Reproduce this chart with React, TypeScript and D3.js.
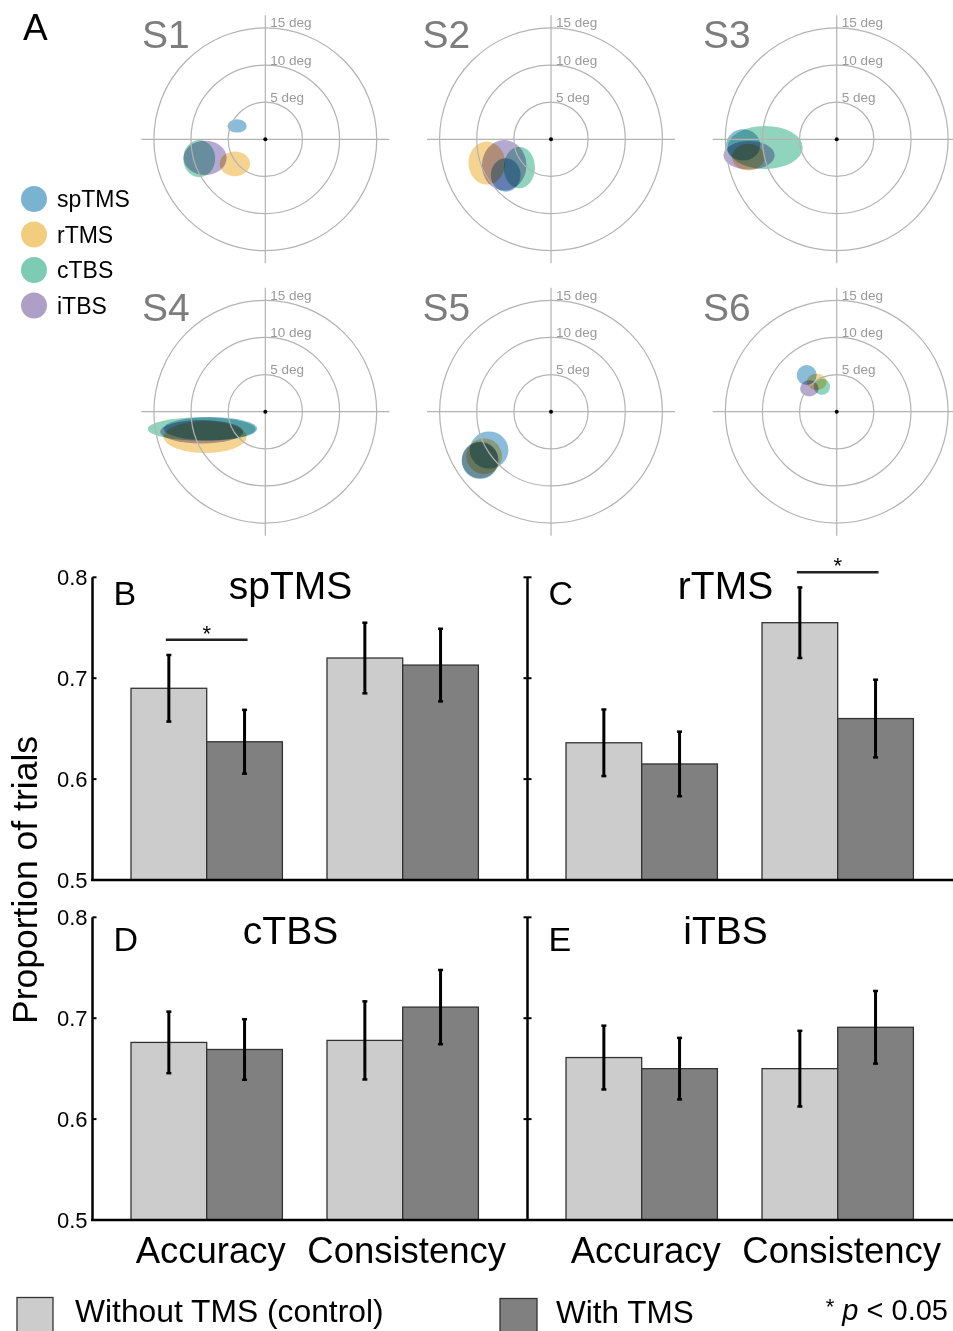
import React, { useEffect } from "react";
import * as d3 from "d3";

// ---------- Data ----------
const conditions = ["spTMS", "rTMS", "cTBS", "iTBS"];
const condColors = ["#6eabd0", "#f2c977", "#76c9ac", "#a493c6"];
const legendColors = ["#7ab3d0", "#f2cd7d", "#7ecbb3", "#ad9fc6"];
const subjects = ["S1", "S2", "S3", "S4", "S5", "S6"];
const ringDegs = [5, 10, 15];

// ellipse per subject: [conditionIndex, x (deg), y (deg), rx (deg), ry (deg)]
const s1Ellipses = [[2, -8.9, -2.6, 2.15, 2.5], [3, -8.1, -2.5, 2.9, 2.3], [1, -4.1, -3.3, 2.06, 1.66], [0, -3.8, 1.8, 1.3, 0.9]];
const s2Ellipses = [[1, -8.65, -3.2, 2.47, 2.9], [3, -6.3, -3.5, 3.0, 3.4], [0, -6.1, -4.8, 2.0, 2.25], [2, -4.26, -3.8, 2.1, 2.8]];
const s3Ellipses = [[2, -9.64, -1.1, 5.07, 2.9], [0, -12.6, -0.76, 2.3, 2.1], [1, -11.9, -2.4, 2.2, 1.8], [3, -11.8, -2.15, 3.45, 1.93]];
const s4Ellipses = [[2, -8.57, -2.33, 7.26, 1.57], [0, -7.4, -2.3, 6.3, 1.57], [1, -8.1, -3.4, 5.6, 2.15], [3, -8.57, -2.7, 5.6, 1.57]];
const s5Ellipses = [[0, -8.34, -5.16, 2.6, 2.5], [1, -9.0, -6.0, 2.4, 2.4], [2, -9.55, -6.6, 2.47, 2.47], [3, -9.55, -6.5, 2.47, 2.47]];
const s6Ellipses = [[0, -4.04, 4.93, 1.35, 1.35], [1, -2.7, 4.0, 1.35, 1.1], [2, -2.0, 3.36, 1.1, 1.1], [3, -3.68, 3.14, 1.25, 1.08]];
const subjectEllipses = [s1Ellipses, s2Ellipses, s3Ellipses, s4Ellipses, s5Ellipses, s6Ellipses];

const measures = ["Accuracy", "Consistency"];
const groups = ["control", "tms"];
// per condition: [Accuracy, Consistency]
const controlMeans = [[0.690, 0.720], [0.636, 0.755], [0.676, 0.678], [0.661, 0.650]];
const tmsMeans = [[0.637, 0.713], [0.615, 0.660], [0.669, 0.711], [0.650, 0.691]];
const controlErr = [[0.033, 0.035], [0.033, 0.035], [0.0305, 0.0387], [0.0316, 0.0375]];
const tmsErr = [[0.0316, 0.036], [0.032, 0.0385], [0.030, 0.0368], [0.0305, 0.036]];
const yTicks = [0.5, 0.6, 0.7, 0.8];
// significant comparisons: [conditionIndex, measureIndex, line level]
const sigPairs = [[0, 0, 0.738], [1, 1, 0.805]];
const panelLetters = ["B", "C", "D", "E"];

const FONT = "'Liberation Sans', Arial, Helvetica, sans-serif";

// ---------- Layout ----------
const W = 953, H = 1331;
const polarCX = [265.3, 551, 836.7];
const polarCY = [139.3, 411.7];
const rScale = d3.scaleLinear().domain([0, 15]).range([0, 111.4]);
const axisHalf = 124;

function PolarPlot({ idx }: { idx: number }) {
  const col = idx % 3;
  const cx = polarCX[col];
  const cy = polarCY[Math.floor(idx / 3)];
  const ell = subjectEllipses[idx];
  return (
    <g>
      <g style={{ isolation: "isolate" }}>
        {ell.map((e, i) => (
          <ellipse
            key={i}
            cx={cx + rScale(e[1])}
            cy={cy - rScale(e[2])}
            rx={rScale(e[3])}
            ry={rScale(e[4])}
            fill={condColors[e[0]]}
            fillOpacity={0.8}
            style={{ mixBlendMode: "multiply" }}
          />
        ))}
      </g>
      {ringDegs.map((d) => (
        <circle key={d} cx={cx} cy={cy} r={rScale(d)} fill="none" stroke="#b3b3b3" strokeWidth={1.2} />
      ))}
      <line x1={cx - axisHalf} x2={cx + axisHalf} y1={cy} y2={cy} stroke="#b3b3b3" strokeWidth={1.2} />
      <line x1={cx} x2={cx} y1={cy - axisHalf} y2={cy + axisHalf} stroke="#b3b3b3" strokeWidth={1.2} />
      <circle cx={cx} cy={cy} r={2} fill="#000" />
      {ringDegs.map((d) => (
        <text key={"t" + d} x={cx + 5} y={cy - rScale(d) - 0.5} fontSize={13.5} fill="#9a9a9a" fontFamily={FONT}>
          {d} deg
        </text>
      ))}
      <text x={142 + col * 280.5} y={cy - 91} fontSize={39} fill="#7d7d7d" fontFamily={FONT}>
        {subjects[idx]}
      </text>
    </g>
  );
}

function BarPanel({ ci }: { ci: number }) {
  const col = ci % 2, row = Math.floor(ci / 2);
  const axisX = 92.5 + col * 435;
  const y08 = 577.3 + row * 340;
  const y05 = 880 + row * 340;
  const y = d3.scaleLinear().domain([0.5, 0.8]).range([y05, y08]);
  const xG = d3.scaleBand().domain(measures).range([axisX + 16.2, axisX + 408.2]).paddingInner(0.2276).paddingOuter(0.1138);
  const xS = d3.scaleBand().domain(groups).range([0, xG.bandwidth()]);
  const means = [controlMeans[ci], tmsMeans[ci]];
  const errs = [controlErr[ci], tmsErr[ci]];
  const fills = ["#cccccc", "#808080"];
  const letterDY = row === 0 ? 28 : 34;
  return (
    <g>
      {measures.map((m, mi) =>
        groups.map((g, gi) => {
          const x0 = (xG(m) as number) + (xS(g) as number);
          const v = means[gi][mi];
          const e = errs[gi][mi];
          const xc = x0 + xS.bandwidth() / 2;
          return (
            <g key={m + g}>
              <rect x={x0} y={y(v)} width={xS.bandwidth()} height={y05 - y(v)} fill={fills[gi]} stroke="#333" strokeWidth={1.3} />
              <line x1={xc} x2={xc} y1={y(v + e)} y2={y(v - e)} stroke="#000" strokeWidth={3} />
              <line x1={xc - 2.5} x2={xc + 2.5} y1={y(v + e)} y2={y(v + e)} stroke="#000" strokeWidth={2.5} />
              <line x1={xc - 2.5} x2={xc + 2.5} y1={y(v - e)} y2={y(v - e)} stroke="#000" strokeWidth={2.5} />
            </g>
          );
        })
      )}
      {/* y axis */}
      <line x1={axisX} x2={axisX} y1={y(0.8)} y2={y05} stroke="#000" strokeWidth={2.5} />
      {yTicks.map((t) =>
        col === 0 ? (
          <g key={t}>
            <line x1={axisX} x2={axisX + 4} y1={y(t)} y2={y(t)} stroke="#000" strokeWidth={2} />
            <text x={axisX - 5} y={y(t)} dy="0.35em" textAnchor="end" fontSize={22} fontFamily={FONT} fill="#000">
              {t.toFixed(1)}
            </text>
          </g>
        ) : (
          <line key={t} x1={axisX - 4} x2={axisX + 4} y1={y(t)} y2={y(t)} stroke="#000" strokeWidth={2} />
        )
      )}
      {/* significance */}
      {sigPairs
        .filter((s) => s[0] === ci)
        .map((s, k) => {
          const m = measures[s[1]];
          const xa = (xG(m) as number) + (xS("control") as number) + xS.bandwidth() / 2 - 3;
          const xb = (xG(m) as number) + (xS("tms") as number) + xS.bandwidth() / 2 + 3;
          const ly = y(s[2]);
          return (
            <g key={k}>
              <line x1={xa} x2={xb} y1={ly} y2={ly} stroke="#222" strokeWidth={2.5} />
              <text x={(xa + xb) / 2} y={ly + 1} textAnchor="middle" fontSize={22} fontFamily={FONT} fill="#000">
                *
              </text>
            </g>
          );
        })}
      <text x={axisX + 21} y={y08 + letterDY} fontSize={34} fontFamily={FONT} fill="#000">
        {panelLetters[ci]}
      </text>
      <text x={axisX + 198} y={y08 + (row === 0 ? 22 : 27)} textAnchor="middle" fontSize={39} fontFamily={FONT} fill="#000">
        {conditions[ci]}
      </text>
      {row === 1 &&
        measures.map((m) => (
          <text key={m} x={(xG(m) as number) + xG.bandwidth() / 2 + 4} y={1263} textAnchor="middle" fontSize={36.5} fontFamily={FONT} fill="#000">
            {m}
          </text>
        ))}
    </g>
  );
}

export default function App() {
  useEffect(() => {
    document.body.style.margin = "0";
  }, []);
  return (
    <svg width={W} height={H} viewBox={`0 0 ${W} ${H}`} style={{ display: "block", background: "#fff" }}>
      <rect width={W} height={H} fill="#fff" />
      <text x={23} y={40} fontSize={37} fontFamily={FONT} fill="#000">A</text>
      {subjects.map((s, i) => (
        <PolarPlot key={s} idx={i} />
      ))}
      {conditions.map((c, i) => (
        <g key={c}>
          <circle cx={34} cy={199 + i * 35.5} r={13} fill={legendColors[i]} />
          <text x={57} y={199 + i * 35.5} dy="0.36em" fontSize={23} fontFamily={FONT} fill="#000">
            {c}
          </text>
        </g>
      ))}
      {conditions.map((c, i) => (
        <BarPanel key={"p" + c} ci={i} />
      ))}
      {/* baselines */}
      <line x1={91} x2={W} y1={880} y2={880} stroke="#000" strokeWidth={2.5} />
      <line x1={91} x2={W} y1={1220} y2={1220} stroke="#000" strokeWidth={2.5} />
      <text transform="translate(37,880) rotate(-90)" textAnchor="middle" fontSize={35.5} fontFamily={FONT} fill="#000">
        Proportion of trials
      </text>
      {/* bottom legend */}
      <rect x={17} y={1297.5} width={36} height={40} fill="#cccccc" stroke="#333" strokeWidth={1.3} />
      <text x={75} y={1322} fontSize={31.8} fontFamily={FONT} fill="#000">Without TMS (control)</text>
      <rect x={500} y={1298.5} width={37} height={40} fill="#808080" stroke="#333" strokeWidth={1.3} />
      <text x={556} y={1323} fontSize={31.5} fontFamily={FONT} fill="#000">With TMS</text>
      <text x={948} y={1320} textAnchor="end" fontSize={29} fontFamily={FONT} fill="#000">
        <tspan fontSize={22} dy={-6}>*</tspan>
        <tspan dy={6}> </tspan>
        <tspan fontStyle="italic">p</tspan>
        <tspan>{" < 0.05"}</tspan>
      </text>
    </svg>
  );
}
